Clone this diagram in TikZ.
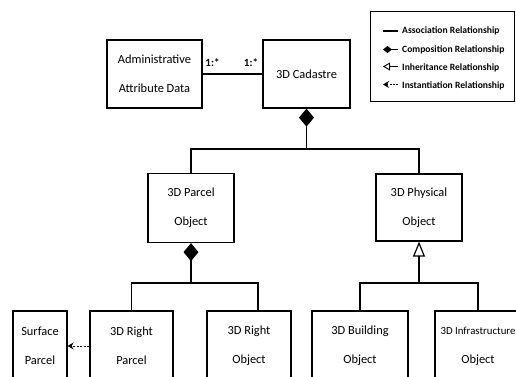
\documentclass[tikz,border=0pt]{standalone}
\usepackage{fontspec}
\setmainfont{Carlito}
\usetikzlibrary{arrows.meta,calc}
\begin{document}
\begin{tikzpicture}[x=1pt,y=-1pt,
  box/.style={draw, line width=1.2pt, align=center, inner sep=0pt,
    font=\fontsize{12.4}{29}\selectfont},
  conn/.style={line width=1.2pt},
  comp/.style={conn, {Diamond[length=18pt,width=15pt]}-},
  inh/.style={conn, {Triangle[open,length=15pt,width=12pt]}-},
  inst/.style={line width=1pt, dash pattern=on 2pt off 1.5pt, -{Stealth[length=6pt,width=7pt]}},
  mult/.style={font=\fontsize{11}{12}\selectfont\bfseries, inner sep=0pt},
  legtext/.style={font=\fontsize{9.6}{11}\selectfont\bfseries, inner sep=0pt, anchor=west}
]
\useasboundingbox (0,0) rectangle (516,376);
\clip (0,0) rectangle (516,376);

% top row
\node[box, minimum width=95pt, minimum height=68pt] (admin) at (154.5,74) {Administrative\\Attribute Data};
\node[box, minimum width=87pt, minimum height=68pt] (cad) at (306.5,74) {3D Cadastre};
% middle row
\node[box, minimum width=86pt, minimum height=69pt] (parcel) at (191,208) {3D Parcel\\Object};
\node[box, minimum width=86pt, minimum height=67pt] (phys) at (419,207.5) {3D Physical\\Object};
% bottom row
\node[box, minimum width=54pt, minimum height=70pt] (surf) at (40,346) {Surface\\Parcel};
\node[box, minimum width=83pt, minimum height=70pt] (rp) at (131.5,346) {3D Right\\Parcel};
\node[box, minimum width=84pt, minimum height=70pt] (ro) at (249,346) {3D Right\\Object};
\node[box, minimum width=96pt, minimum height=70pt] (bld) at (360,346) {3D Building\\Object};
\node[box, minimum width=86pt, minimum height=70pt] (infra) at (478,346) {{\fontsize{10.8}{29}\selectfont 3D Infrastructure}\\Object};

% association
\draw[conn] (admin.east) -- (cad.west);
\node[mult] (m1) at (212.5,63) {1:*};
\node[mult] (m2) at (251,63) {1:*};

% composition from cadastre
\coordinate (bus1) at (306.5,149);
\draw[comp] (cad.south) -- (bus1);
\draw[conn] (parcel.north) |- (bus1) -| (phys.north);

% composition from parcel object
\coordinate (bus2) at (191,283);
\draw[comp] (parcel.south) -- (bus2);
\draw[conn] (rp.north) |- (bus2) -| ([xshift=9pt]ro.north);

% inheritance from physical object
\coordinate (bus3) at (419,283);
\draw[inh] (phys.south) -- (bus3);
\draw[conn] (bld.north) |- (bus3) -| (infra.north);

% instantiation
\draw[inst] (rp.west) -- (surf.east);

% legend
\node[draw, line width=0.6pt, minimum width=144pt, minimum height=90pt, inner sep=0pt] (legend) at (442,56) {};
\node[legtext] (l1) at (402,31) {Association Relationship};
\node[legtext] (l2) at (402,49.5) {Composition Relationship};
\node[legtext] (l3) at (402,67.5) {Inheritance Relationship};
\node[legtext] (l4) at (402,85.5) {Instantiation Relationship};
\coordinate (s1a) at (383,31);   \coordinate (s1b) at (398,31);
\coordinate (s2a) at (383,49.5); \coordinate (s2b) at (398,49.5);
\coordinate (s3a) at (383,66.5); \coordinate (s3b) at (398,66.5);
\coordinate (s4a) at (383,84.5); \coordinate (s4b) at (398,84.5);
\draw[line width=1.2pt] (s1a) -- (s1b);
\draw[line width=1.2pt, -{Diamond[length=9pt,width=7pt]}] (s2b) -- (s2a);
\draw[line width=0.9pt, -{Triangle[open,length=7pt,width=8pt]}] (s3b) -- (s3a);
\draw[line width=0.9pt, dash pattern=on 2pt off 1.2pt, -{Stealth[length=6pt,width=7pt]}] (s4b) -- (s4a);
\end{tikzpicture}
\end{document}
